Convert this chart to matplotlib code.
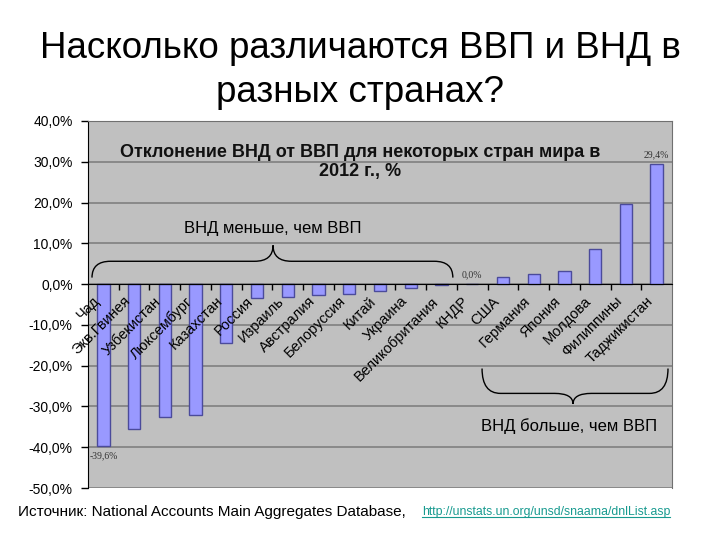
import matplotlib
matplotlib.use("Agg")
import matplotlib.pyplot as plt
from matplotlib import font_manager
from matplotlib.path import Path
from matplotlib.patches import PathPatch
from matplotlib.lines import Line2D
from matplotlib.ticker import FuncFormatter
import numpy as np

# data
countries = ["Чад", "Экв.Гвинея", "Узбекистан", "Люксембург", "Казахстан", "Россия",
             "Израиль", "Австралия", "Белоруссия", "Китай", "Украина", "Великобритания",
             "КНДР", "США", "Германия", "Япония", "Молдова", "Филиппины", "Таджикистан"]
deviation = [-39.6, -35.6, -32.5, -32.0, -14.4, -3.4, -3.1, -2.6, -2.4, -1.8, -0.9, -0.3,
             0.0, 1.85, 2.5, 3.3, 8.5, 19.6, 29.4]
labelled = ["Чад", "КНДР", "Таджикистан"]
yticks = [-50, -40, -30, -20, -10, 0, 10, 20, 30, 40]

title = ["Насколько различаются ВВП и ВНД в", "разных странах?"]
chart_title = "Отклонение ВНД от ВВП для некоторых стран мира в\n2012 г., %"
note_less = "ВНД меньше, чем ВВП"
note_more = "ВНД больше, чем ВВП"
source = "Источник: National Accounts Main Aggregates Database,"
link = "http://unstats.un.org/unsd/snaama/dnlList.asp"

sans = "Liberation Sans"
names = {f.name for f in font_manager.fontManager.ttflist}
narrow = "Liberation Sans Narrow" if "Liberation Sans Narrow" in names else sans
plt.rcParams["font.family"] = [sans, "DejaVu Sans"]

fig = plt.figure(figsize=(7.2, 5.4), dpi=100)
W, H = 720, 540
ax = fig.add_axes([88 / W, 1 - 488 / H, (672 - 88) / W, (488 - 121) / H])
ax.set_facecolor("#c0c0c0")

x = np.arange(len(countries))
ax.bar(x, deviation, width=0.4, color="#9999ff", edgecolor="#4b4b9b", linewidth=1, zorder=3)

ax.set_xlim(-0.5, len(countries) - 0.5)
ax.set_ylim(-50, 40)
ax.set_yticks(yticks)
ax.yaxis.set_major_formatter(FuncFormatter(lambda v, p: f"{v:.1f}%".replace(".", ",")))
ax.grid(axis="y", color="#808080", linewidth=1.2, zorder=1)
ax.set_axisbelow(True)

ax.spines["bottom"].set_position(("data", 0))
ax.spines["bottom"].set_zorder(4)
for s in ["top", "right"]:
    ax.spines[s].set_color("#707070")
ax.set_xticks(np.arange(0.5, len(countries) - 1, 1))
ax.set_xticklabels([])
ax.tick_params(axis="x", direction="out", length=4, width=1)
ax.tick_params(axis="y", direction="out", length=5, width=1, labelsize=10, pad=6)

for i, name in enumerate(countries):
    ax.text(i - 0.35, -2.4, name, rotation=45, ha="right", va="top",
            rotation_mode="anchor", fontsize=10.5, zorder=5)

for i, name in enumerate(countries):
    if name in labelled:
        v = deviation[i]
        off = -10 if v < 0 else 9
        ax.annotate(f"{v:.1f}%".replace(".", ","), (i, v), xytext=(0, off * 0.72),
                    textcoords="offset points", ha="center", va="center",
                    fontsize=7, family="Liberation Serif", color="#333333", zorder=5)


def brace(x0, x1, xm, y_end, y_mid, y_tip, r=0.6):
    verts = [(x0, y_end), (x0, y_mid), (x0 + r, y_mid), (xm - r, y_mid),
             (xm, y_mid), (xm, y_tip), (xm, y_mid), (xm + r, y_mid),
             (x1 - r, y_mid), (x1, y_mid), (x1, y_end)]
    codes = [Path.MOVETO, Path.CURVE3, Path.CURVE3, Path.LINETO,
             Path.CURVE3, Path.CURVE3, Path.CURVE3, Path.CURVE3,
             Path.LINETO, Path.CURVE3, Path.CURVE3]
    ax.add_patch(PathPatch(Path(verts, codes), fill=False, edgecolor="black",
                           linewidth=1, zorder=5, clip_on=False))


brace(-0.37, 11.37, 5.52, 1.6, 5.6, 9.5)
brace(12.32, 18.37, 15.28, -20.7, -26.8, -29.4)
ax.text(5.5, 13.7, note_less, ha="center", va="center", fontsize=12, zorder=5)
ax.text(15.15, -34.7, note_more, ha="center", va="center", fontsize=12, zorder=5)

ax.text(0.466, 1 - (162 - 121) / 367, chart_title, transform=ax.transAxes, ha="center",
        va="center", fontsize=13, fontweight="bold", linespacing=1.15, color="#111111")

fig.text(0.5, 1 - 49 / H, title[0], ha="center", va="center", fontsize=26.5)
fig.text(0.5, 1 - 92 / H, title[1], ha="center", va="center", fontsize=26.5)

t1 = fig.text(18 / W, 1 - 512 / H, source, ha="left", va="center", fontsize=11, family=narrow)
fig.canvas.draw()
r = fig.canvas.get_renderer()
b1 = t1.get_window_extent(r)
t2 = fig.text((b1.x1 + 16) / W, 1 - 512 / H, link, ha="left", va="center", fontsize=8.8,
              family=narrow, color="#179a8f")
b2 = t2.get_window_extent(r)
uy = (b2.y0 + 1.5) / H
fig.add_artist(Line2D([b2.x0 / W, b2.x1 / W], [uy, uy], color="#179a8f", linewidth=0.8))

fig.savefig("out.png", dpi=100)
